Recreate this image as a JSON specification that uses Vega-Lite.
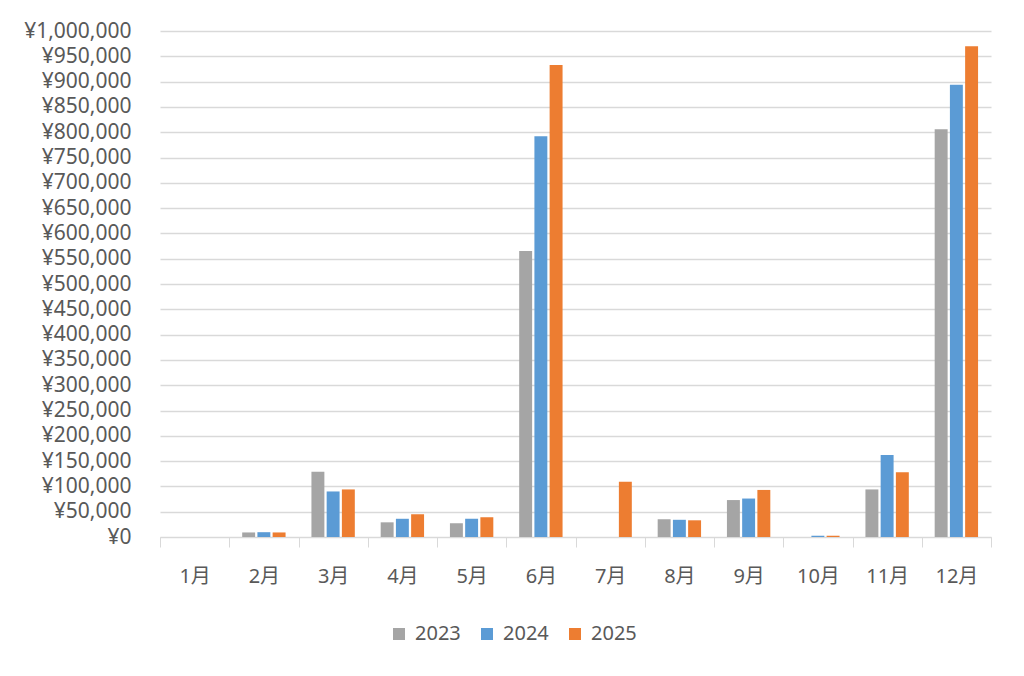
{
  "$schema": "https://vega.github.io/schema/vega-lite/v6.json",
  "autosize": {"type": "none"},
  "width": 831,
  "height": 506,
  "padding": {"left": 160, "top": 31, "right": 33, "bottom": 139},
  "background": "white",
  "config": {
    "view": {"stroke": null},
    "font": "Noto Sans, Noto Sans CJK JP",
    "axis": {"labelFont": "Noto Sans, Noto Sans CJK JP", "labelColor": "#595959", "labelFontSize": 20}
  },
  "data": {
    "values": [
      {"month": "1月", "year": "2023", "value": 0},
      {"month": "1月", "year": "2024", "value": 0},
      {"month": "1月", "year": "2025", "value": 0},
      {"month": "2月", "year": "2023", "value": 9000},
      {"month": "2月", "year": "2024", "value": 9500},
      {"month": "2月", "year": "2025", "value": 9000},
      {"month": "3月", "year": "2023", "value": 129000},
      {"month": "3月", "year": "2024", "value": 90000},
      {"month": "3月", "year": "2025", "value": 94000},
      {"month": "4月", "year": "2023", "value": 29000},
      {"month": "4月", "year": "2024", "value": 36000},
      {"month": "4月", "year": "2025", "value": 45000},
      {"month": "5月", "year": "2023", "value": 27000},
      {"month": "5月", "year": "2024", "value": 36000},
      {"month": "5月", "year": "2025", "value": 39000},
      {"month": "6月", "year": "2023", "value": 565000},
      {"month": "6月", "year": "2024", "value": 792000},
      {"month": "6月", "year": "2025", "value": 933000},
      {"month": "7月", "year": "2023", "value": 0},
      {"month": "7月", "year": "2024", "value": 0},
      {"month": "7月", "year": "2025", "value": 109000},
      {"month": "8月", "year": "2023", "value": 35000},
      {"month": "8月", "year": "2024", "value": 34000},
      {"month": "8月", "year": "2025", "value": 33000},
      {"month": "9月", "year": "2023", "value": 73000},
      {"month": "9月", "year": "2024", "value": 76000},
      {"month": "9月", "year": "2025", "value": 93000},
      {"month": "10月", "year": "2023", "value": 0},
      {"month": "10月", "year": "2024", "value": 2500},
      {"month": "10月", "year": "2025", "value": 2500},
      {"month": "11月", "year": "2023", "value": 94000},
      {"month": "11月", "year": "2024", "value": 162000},
      {"month": "11月", "year": "2025", "value": 128000},
      {"month": "12月", "year": "2023", "value": 806000},
      {"month": "12月", "year": "2024", "value": 894000},
      {"month": "12月", "year": "2025", "value": 970000}
    ]
  },
  "mark": {"type": "bar"},
  "encoding": {
    "x": {
      "field": "month", "type": "nominal", "sort": null,
      "scale": {"paddingInner": 0, "paddingOuter": 0},
      "axis": {"title": null, "labelAngle": 0, "domainColor": "#D9D9D9", "tickColor": "#D9D9D9", "tickSize": 10, "tickBand": "extent", "labelPadding": 19, "grid": false}
    },
    "xOffset": {"field": "year", "type": "nominal", "scale": {"paddingInner": 0.15, "paddingOuter": 0.85}},
    "y": {
      "field": "value", "type": "quantitative",
      "scale": {"domain": [0, 1000000], "nice": false},
      "axis": {"title": null, "values": [0,50000,100000,150000,200000,250000,300000,350000,400000,450000,500000,550000,600000,650000,700000,750000,800000,850000,900000,950000,1000000], "labelOverlap": false, "labelFontSize": 21, "labelExpr": "'¥' + format(datum.value, ',')", "domain": false, "ticks": false, "labelPadding": 29, "gridColor": "#D9D9D9", "gridWidth": 1.3}
    },
    "color": {
      "field": "year", "type": "nominal",
      "scale": {"domain": ["2023", "2024", "2025"], "range": ["#A5A5A5", "#5B9BD5", "#ED7D31"]},
      "legend": {"title": null, "orient": "none", "direction": "horizontal", "legendX": 229, "legendY": 593, "symbolType": "square", "symbolSize": 144, "symbolStrokeWidth": 0, "labelFontSize": 20, "labelColor": "#595959", "labelFont": "Noto Sans", "columnPadding": 16, "labelOffset": 6}
    }
  }
}
